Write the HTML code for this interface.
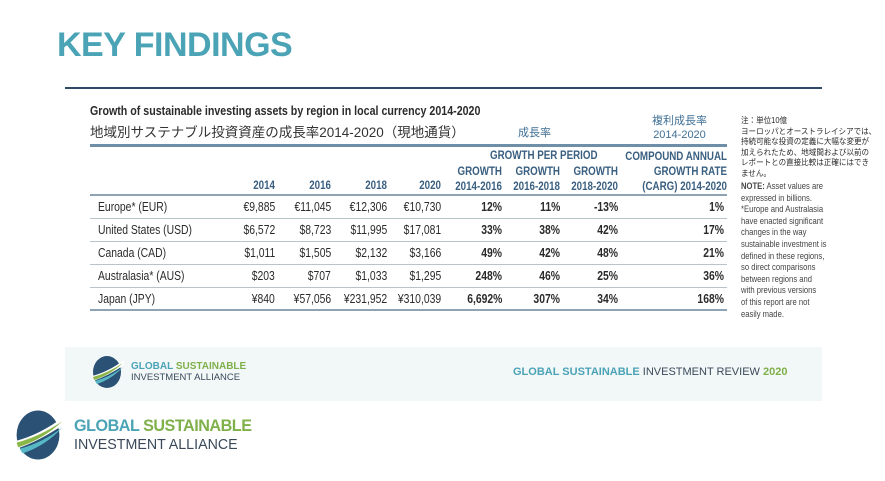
<!DOCTYPE html>
<html><head><meta charset="utf-8"><style>
*{margin:0;padding:0;box-sizing:border-box}
body{width:885px;height:481px;background:#fff;position:relative;overflow:hidden;font-family:"Liberation Sans","Noto Sans CJK JP",sans-serif;color:#2b2b2b}
.a{position:absolute;white-space:nowrap}
.r{text-align:right}
.hd{color:#3a5f80;font-weight:bold;font-size:11.5px}
.row{position:absolute;left:90px;width:637px;height:23px;border-bottom:1px solid #b8c4cc;font-size:12.5px}
.row span{position:absolute;top:4px;transform:scaleX(.83);transform-origin:right center}
.row .n{left:8px;transform-origin:left center}
.b{font-weight:bold}
</style></head><body>
<div class="a" style="left:57px;top:26px;font-size:34px;font-weight:bold;color:#4ba3b6;letter-spacing:-0.5px">KEY FINDINGS</div>
<div class="a" style="left:65px;top:87px;width:757px;height:2px;background:#2e4a66"></div>

<div class="a" style="left:90px;top:103px;font-size:13px;font-weight:bold;transform:scaleX(.82);transform-origin:left">Growth of sustainable investing assets by region in local currency 2014-2020</div>
<div class="a" style="left:90px;top:121px;font-size:13.5px;color:#333">地域別サステナブル投資資産の成長率2014-2020（現地通貨）</div>
<div class="a" style="left:518px;top:124px;font-size:11px;color:#3f6f95">成長率</div>
<div class="a" style="left:652px;top:114px;font-size:11px;color:#3f6f95;text-align:center;line-height:14px">複利成長率<br>2014-2020</div>

<div class="a" style="left:90px;top:144px;width:637px;height:3px;background:#6f8ea8"></div>
<div class="a hd" style="left:490px;top:150px;transform:scaleX(.85);transform-origin:left">GROWTH PER PERIOD</div>
<div class="a hd r" style="left:600px;top:150px;width:127px;line-height:15px;transform:scaleX(.85);transform-origin:right">COMPOUND ANNUAL<br>GROWTH RATE<br>(CARG) 2014-2020</div>
<div class="a hd r" style="left:440px;top:165px;width:62px;line-height:15px;transform:scaleX(.85);transform-origin:right">GROWTH<br>2014-2016</div>
<div class="a hd r" style="left:498px;top:165px;width:62px;line-height:15px;transform:scaleX(.85);transform-origin:right">GROWTH<br>2016-2018</div>
<div class="a hd r" style="left:556px;top:165px;width:62px;line-height:15px;transform:scaleX(.85);transform-origin:right">GROWTH<br>2018-2020</div>
<div class="a hd r" style="left:235px;top:180px;width:40px;transform:scaleX(.85);transform-origin:right">2014</div>
<div class="a hd r" style="left:291px;top:180px;width:40px;transform:scaleX(.85);transform-origin:right">2016</div>
<div class="a hd r" style="left:347px;top:180px;width:40px;transform:scaleX(.85);transform-origin:right">2018</div>
<div class="a hd r" style="left:401px;top:180px;width:40px;transform:scaleX(.85);transform-origin:right">2020</div>
<div class="a" style="left:90px;top:194px;width:637px;height:2px;background:#8ea3b3"></div>

<div class="row" style="top:196px"><span class="n">Europe* (EUR)</span><span style="right:452px">€9,885</span><span style="right:396px">€11,045</span><span style="right:340px">€12,306</span><span style="right:286px">€10,730</span><span class="b" style="right:225px">12%</span><span class="b" style="right:167px">11%</span><span class="b" style="right:109px">-13%</span><span class="b" style="right:3px">1%</span></div>
<div class="row" style="top:219px"><span class="n">United States (USD)</span><span style="right:452px">$6,572</span><span style="right:396px">$8,723</span><span style="right:340px">$11,995</span><span style="right:286px">$17,081</span><span class="b" style="right:225px">33%</span><span class="b" style="right:167px">38%</span><span class="b" style="right:109px">42%</span><span class="b" style="right:3px">17%</span></div>
<div class="row" style="top:242px"><span class="n">Canada (CAD)</span><span style="right:452px">$1,011</span><span style="right:396px">$1,505</span><span style="right:340px">$2,132</span><span style="right:286px">$3,166</span><span class="b" style="right:225px">49%</span><span class="b" style="right:167px">42%</span><span class="b" style="right:109px">48%</span><span class="b" style="right:3px">21%</span></div>
<div class="row" style="top:265px"><span class="n">Australasia* (AUS)</span><span style="right:452px">$203</span><span style="right:396px">$707</span><span style="right:340px">$1,033</span><span style="right:286px">$1,295</span><span class="b" style="right:225px">248%</span><span class="b" style="right:167px">46%</span><span class="b" style="right:109px">25%</span><span class="b" style="right:3px">36%</span></div>
<div class="row" style="top:288px;border-bottom:2px solid #8ea3b3"><span class="n">Japan (JPY)</span><span style="right:452px">¥840</span><span style="right:396px">¥57,056</span><span style="right:340px">¥231,952</span><span style="right:286px">¥310,039</span><span class="b" style="right:225px">6,692%</span><span class="b" style="right:167px">307%</span><span class="b" style="right:109px">34%</span><span class="b" style="right:3px">168%</span></div>

<div class="a" style="left:741px;top:116px;font-size:8.2px;line-height:10.5px;transform:scaleX(.92);transform-origin:left">注：単位10億<br>ヨーロッパとオーストラレイシアでは、<br>持続可能な投資の定義に大幅な変更が<br>加えられたため、地域間および以前の<br>レポートとの直接比較は正確にはでき<br>ません。</div>
<div class="a" style="left:741px;top:181px;font-size:9px;line-height:11.6px;color:#444;transform:scaleX(.85);transform-origin:left"><b>NOTE:</b> Asset values are<br>expressed in billions.<br>*Europe and Australasia<br>have enacted significant<br>changes in the way<br>sustainable investment is<br>defined in these regions,<br>so direct comparisons<br>between regions and<br>with previous versions<br>of this report are not<br>easily made.</div>

<div class="a" style="left:65px;top:347px;width:757px;height:54px;background:#f2f7f8"></div>
<svg class="a" style="left:90px;top:356px" width="34" height="32" viewBox="0 0 34 32"><ellipse cx="17" cy="16" rx="14" ry="16" fill="#2b5275"/><path d="M2 20 Q18 16 34 4 L34 9 Q18 20 3 25Z" fill="#fff"/><path d="M3 21 Q18 17 33 7 Q20 19 4 24Z" fill="#8ab547"/><path d="M5 25 Q20 21 33 11 Q22 23 7 28Z" fill="#58b9c6"/></svg>
<div class="a" style="left:131px;top:361px;font-size:10px;font-weight:bold;line-height:11px"><span style="color:#4ba3b6">GLOBAL</span> <span style="color:#7fb04a">SUSTAINABLE</span></div>
<div class="a" style="left:131px;top:372px;font-size:9.5px;color:#3a4a5a">INVESTMENT ALLIANCE</div>
<div class="a" style="left:513px;top:366px;font-size:11px;color:#3a4a5a"><b style="color:#4ba3b6">GLOBAL SUSTAINABLE</b> INVESTMENT REVIEW <b style="color:#7fb04a">2020</b></div>

<svg class="a" style="left:12px;top:410px" width="52" height="50" viewBox="0 0 34 32"><ellipse cx="17" cy="16" rx="14" ry="16" fill="#2b5275"/><path d="M2 20 Q18 16 34 4 L34 9 Q18 20 3 25Z" fill="#fff"/><path d="M3 21 Q18 17 33 7 Q20 19 4 24Z" fill="#8ab547"/><path d="M5 25 Q20 21 33 11 Q22 23 7 28Z" fill="#58b9c6"/></svg>
<div class="a" style="left:74px;top:416px;font-size:17px;font-weight:bold;letter-spacing:-0.5px;transform:scaleX(.95);transform-origin:left"><span style="color:#4ba3b6">GLOBAL</span> <span style="color:#7fb04a">SUSTAINABLE</span></div>
<div class="a" style="left:74px;top:436px;font-size:15px;color:#3a4a5a;transform:scaleX(.95);transform-origin:left">INVESTMENT ALLIANCE</div>
</body></html>
